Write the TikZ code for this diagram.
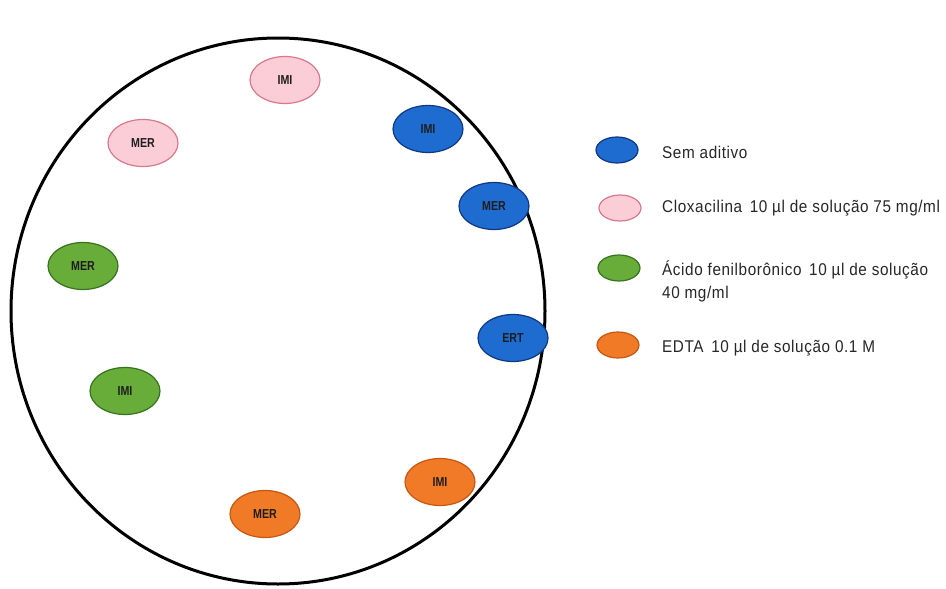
\documentclass[tikz,border=0pt]{standalone}
\usepackage{fontspec}
\setmainfont{Liberation Sans}
\newfontfamily\narrowfont[FakeStretch=0.9,LetterSpace=3.5]{Liberation Sans}
\newfontfamily\labfont[FakeStretch=0.82]{Liberation Sans Bold}
\definecolor{bluefill}{RGB}{30,108,208}
\definecolor{blueedge}{RGB}{18,55,130}
\definecolor{pinkfill}{RGB}{250,205,215}
\definecolor{pinkedge}{RGB}{215,120,140}
\definecolor{greenfill}{RGB}{104,172,58}
\definecolor{greenedge}{RGB}{55,115,30}
\definecolor{orangefill}{RGB}{240,122,38}
\definecolor{orangeedge}{RGB}{195,88,20}
\definecolor{labtext}{RGB}{30,28,28}
\tikzset{
  disc/.style={ellipse, minimum width=70pt, minimum height=47pt, inner sep=0pt, line width=1.2pt,
    font=\labfont\fontsize{13}{13}\selectfont, text=labtext},
  bluedisc/.style={disc, fill=bluefill, draw=blueedge},
  pinkdisc/.style={disc, fill=pinkfill, draw=pinkedge},
  greendisc/.style={disc, fill=greenfill, draw=greenedge},
  orangedisc/.style={disc, fill=orangefill, draw=orangeedge},
  legdisc/.style={ellipse, minimum width=42pt, minimum height=26pt, inner sep=0pt, line width=1.2pt},
  legtext/.style={anchor=west, font=\narrowfont\fontsize{17}{23}\selectfont, text=black!85, align=left, inner sep=0pt},
}
\usetikzlibrary{shapes.geometric}
\begin{document}
\begin{tikzpicture}[x=1pt,y=-1pt]
\useasboundingbox (0,0) rectangle (946,589);
\node[draw=black, line width=3pt, ellipse, minimum width=534pt, minimum height=546pt, inner sep=0pt] (plate) at (278,311) {};
\node[pinkdisc] (imip) at (285,80) {IMI};
\node[pinkdisc] (merp) at (143,143) {MER};
\node[bluedisc] (imib) at (428,129) {IMI};
\node[bluedisc] (merb) at (494,206) {MER};
\node[greendisc] (merg) at (83,266) {MER};
\node[bluedisc] (ertb) at (513,338) {ERT};
\node[greendisc] (imig) at (125,391) {IMI};
\node[orangedisc] (imio) at (440,482) {IMI};
\node[orangedisc] (mero) at (265,514) {MER};
\node[legdisc, fill=bluefill, draw=blueedge] (l1) at (617,150) {};
\node[legdisc, fill=pinkfill, draw=pinkedge] (l2) at (620,208) {};
\node[legdisc, fill=greenfill, draw=greenedge] (l3) at (619,268) {};
\node[legdisc, fill=orangefill, draw=orangeedge] (l4) at (618,345) {};
\node[legtext] (t1) at (662,152) {Sem aditivo};
\node[legtext] (t2) at (662,208) {Cloxacilina\, 10 µl de solução 75 mg/ml};
\node[legtext, anchor=north west] (t3) at (662,261) {Ácido fenilborônico\, 10 µl de solução\\40 mg/ml};
\node[legtext] (t4) at (662,348) {EDTA\, 10 µl de solução 0.1 M};
\end{tikzpicture}
\end{document}
